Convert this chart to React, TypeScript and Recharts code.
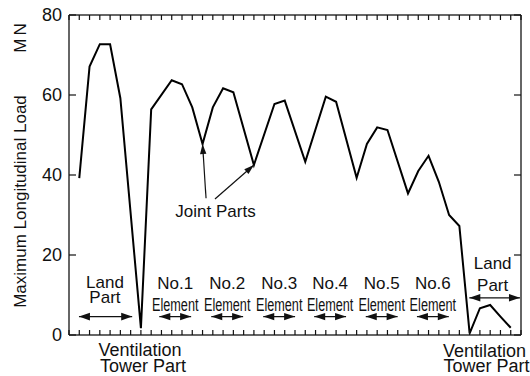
import React from 'react';
import { LineChart, Line, XAxis, YAxis, ReferenceLine, ReferenceDot } from 'recharts';

// ---- data ----
const positions = [1, 2, 3, 4, 5, 7, 8, 10, 11, 12, 13, 14, 15, 16, 18, 20, 21, 23, 25, 26, 28, 29, 30, 31, 33, 34, 35, 36, 37, 38, 39, 40, 41, 42, 43];
const loads = [39.2, 67.1, 72.7, 72.7, 59.2, 1.7, 56.4, 63.7, 62.7, 56.9, 47.75, 56.9, 61.7, 60.7, 42.5, 57.75, 58.6, 43.3, 59.6, 58.3, 39.3, 47.75, 51.9, 51.25, 35.4, 41, 44.8, 38.3, 30, 27.25, 0.4, 6.7, 7.5, 4.6, 1.8];
const yTicks = [0, 20, 40, 60, 80];
const xTicks = [0, 1, 2, 3, 4, 5, 6, 7, 8, 9, 10, 11, 12, 13, 14, 15, 16, 17, 18, 19, 20, 21, 22, 23, 24, 25, 26, 27, 28, 29, 30, 31, 32, 33, 34, 35, 36, 37, 38, 39, 40, 41, 42, 43, 44];

// element annotations
const elementNames = ['No.1', 'No.2', 'No.3', 'No.4', 'No.5', 'No.6'];
const elementCenters = [10.34, 15.4, 20.46, 25.42, 30.44, 35.42];
const elementWord = 'Element';
// joint parts: x positions that the arrows point to
const jointPositions = [13, 18];
const jointStarts = [[13.34, 34.2], [14.21, 34]];
// ventilation tower parts
const ventPositions = [7, 40.45];

const data = positions.map((x, i) => ({ x, load: loads[i] }));
const valueAt = (x: number) => loads[positions.indexOf(x)];

const FONT = '"Liberation Sans", Arial, Helvetica, sans-serif';
const INK = '#111';
const FS = 17;

const LeftTick = (p: any) => (
  <g>
    <line x1={p.x} y1={p.y} x2={p.x + 7} y2={p.y} stroke={INK} strokeWidth={1.2} />
    <text x={p.x - 7} y={p.y} dy="0.36em" textAnchor="end" fontSize={18} fill={INK} fontFamily={FONT}>
      {p.payload.value}
    </text>
  </g>
);
const RightTick = (p: any) => (
  <line x1={p.x} y1={p.y} x2={p.x - 7} y2={p.y} stroke={INK} strokeWidth={1.2} />
);
const BottomTick = (p: any) => (
  <line x1={p.x} y1={p.y} x2={p.x} y2={p.y - 5} stroke={INK} strokeWidth={1.2} />
);
const TopTick = (p: any) => (
  <line x1={p.x} y1={p.y} x2={p.x} y2={p.y + 5} stroke={INK} strokeWidth={1.2} />
);

function head(x: number, y: number, dx: number, dy: number, len: number, half: number) {
  const bx = x - dx * len;
  const by = y - dy * len;
  const px = -dy * half;
  const py = dx * half;
  return `${x},${y} ${bx + px},${by + py} ${bx - px},${by - py}`;
}

const makeDoubleArrow = (len: number, half: number) => (p: any) => {
  const { x1, y1, x2, y2 } = p;
  const L = Math.hypot(x2 - x1, y2 - y1) || 1;
  const dx = (x2 - x1) / L;
  const dy = (y2 - y1) / L;
  return (
    <g>
      <line x1={x1} y1={y1} x2={x2} y2={y2} stroke={INK} strokeWidth={1.3} />
      <polygon points={head(x2, y2, dx, dy, len, half)} fill={INK} />
      <polygon points={head(x1, y1, -dx, -dy, len, half)} fill={INK} />
    </g>
  );
};

const SingleArrow = (p: any) => {
  const { x1, y1, x2, y2 } = p;
  const L = Math.hypot(x2 - x1, y2 - y1) || 1;
  const dx = (x2 - x1) / L;
  const dy = (y2 - y1) / L;
  return (
    <g>
      <line x1={x1} y1={y1} x2={x2} y2={y2} stroke={INK} strokeWidth={1.2} />
      <polygon points={head(x2, y2, dx, dy, 10, 3.2)} fill={INK} />
    </g>
  );
};

const textShape = (label: string, opts: { condensed?: number; size?: number } = {}) => (p: any) => (
  <text
    x={p.cx}
    y={p.cy}
    textAnchor="middle"
    fontSize={opts.size || FS}
    fill={INK}
    fontFamily={FONT}
    {...(opts.condensed ? { textLength: opts.condensed, lengthAdjust: 'spacingAndGlyphs' } : {})}
  >
    {label}
  </text>
);

const YLabel = (p: any) => {
  const vb = p.viewBox || { x: 0, y: 15 };
  return (
    <g>
      <text
        transform={`translate(${vb.x + 20},${vb.y + 186.5}) rotate(-90)`}
        textAnchor="middle"
        dy="0.36em"
        fontSize={FS}
        fill={INK}
        fontFamily={FONT}
      >
        Maximum Longitudinal Load
      </text>
      <text
        transform={`translate(${vb.x + 20},${vb.y + 21.5}) rotate(-90)`}
        textAnchor="middle"
        dy="0.36em"
        fontSize={FS}
        fill={INK}
        fontFamily={FONT}
        letterSpacing={3}
      >
        MN
      </text>
    </g>
  );
};

const axisLine = { stroke: '#333', strokeWidth: 1.5 };

export default function App() {
  const elementArrow = makeDoubleArrow(11, 3.6);
  const landArrow = makeDoubleArrow(11, 3.8);
  return (
    <div style={{ position: 'absolute', left: 0, top: 0, width: 530, height: 376, background: '#fff', fontFamily: FONT }}>
      <LineChart width={530} height={376} data={data} margin={{ top: 14, right: 8, bottom: 0, left: 0 }}>
        <XAxis
          dataKey="x"
          type="number"
          domain={[0, 44]}
          ticks={xTicks}
          interval={0}
          allowDataOverflow
          height={41}
          tickSize={0}
          tickMargin={0}
          tickLine={false}
          tick={<BottomTick />}
          axisLine={axisLine}
        />
        <XAxis
          xAxisId="t"
          orientation="top"
          dataKey="x"
          type="number"
          domain={[0, 44]}
          ticks={xTicks}
          interval={0}
          allowDataOverflow
          height={1}
          tickSize={0}
          tickMargin={0}
          tickLine={false}
          tick={<TopTick />}
          axisLine={axisLine}
        />
        <YAxis
          type="number"
          domain={[0, 80]}
          ticks={yTicks}
          interval={0}
          allowDataOverflow
          width={69}
          tickSize={0}
          tickMargin={0}
          tickLine={false}
          tick={<LeftTick />}
          axisLine={axisLine}
          label={{ content: (p: any) => <YLabel {...p} /> }}
        />
        <YAxis
          yAxisId="r"
          orientation="right"
          type="number"
          domain={[0, 80]}
          ticks={yTicks}
          interval={0}
          allowDataOverflow
          width={1}
          tickSize={0}
          tickMargin={0}
          tickLine={false}
          tick={<RightTick />}
          axisLine={axisLine}
        />

        <Line type="linear" dataKey="load" stroke="#000" strokeWidth={2} dot={false} activeDot={false} isAnimationActive={false} />

        {/* Left land part */}
        <ReferenceDot x={3.5} y={11.8} r={0} ifOverflow="visible" shape={textShape('Land')} />
        <ReferenceDot x={3.5} y={8.1} r={0} ifOverflow="visible" shape={textShape('Part')} />
        <ReferenceLine ifOverflow="visible" segment={[{ x: 0.97, y: 4.6 }, { x: 6.15, y: 4.6 }]} shape={landArrow} />

        {/* Elements */}
        {elementNames.map((n, i) => (
          <ReferenceDot key={'n' + i} x={elementCenters[i]} y={11.6} r={0} ifOverflow="visible" shape={textShape(n)} />
        ))}
        {elementNames.map((n, i) => (
          <ReferenceDot key={'e' + i} x={elementCenters[i]} y={6} r={0} ifOverflow="visible" shape={textShape(elementWord, { condensed: 46.5, size: 17.5 })} />
        ))}
        {elementNames.map((n, i) => (
          <ReferenceLine
            key={'a' + i}
            ifOverflow="visible"
            segment={[{ x: elementCenters[i] - 1.55, y: 4.6 }, { x: elementCenters[i] + 1.55, y: 4.6 }]}
            shape={elementArrow}
          />
        ))}

        {/* Right land part */}
        <ReferenceDot x={41.24} y={16.4} r={0} ifOverflow="visible" shape={textShape('Land')} />
        <ReferenceDot x={41.24} y={10.9} r={0} ifOverflow="visible" shape={textShape('Part')} />
        <ReferenceLine ifOverflow="visible" segment={[{ x: 38.97, y: 9.3 }, { x: 43.9, y: 9.3 }]} shape={landArrow} />

        {/* Joint parts */}
        <ReferenceDot x={14.26} y={29.5} r={0} ifOverflow="visible" shape={textShape('Joint Parts')} />
        {jointPositions.map((jx, i) => (
          <ReferenceLine
            key={'j' + i}
            ifOverflow="visible"
            segment={[{ x: jointStarts[i][0], y: jointStarts[i][1] }, { x: jx, y: valueAt(jx) }]}
            shape={SingleArrow}
          />
        ))}

        {/* Ventilation tower parts */}
        <ReferenceDot x={ventPositions[0] - 0.09} y={-5.25} r={0} ifOverflow="visible" shape={textShape('Ventilation', { size: 18 })} />
        <ReferenceDot x={ventPositions[0] + 0.2} y={-9.3} r={0} ifOverflow="visible" shape={textShape('Tower Part', { size: 18 })} />
        <ReferenceDot x={ventPositions[1]} y={-5.4} r={0} ifOverflow="visible" shape={textShape('Ventilation', { size: 18 })} />
        <ReferenceDot x={ventPositions[1] + 0.2} y={-9.3} r={0} ifOverflow="visible" shape={textShape('Tower Part', { size: 18 })} />
      </LineChart>
    </div>
  );
}
